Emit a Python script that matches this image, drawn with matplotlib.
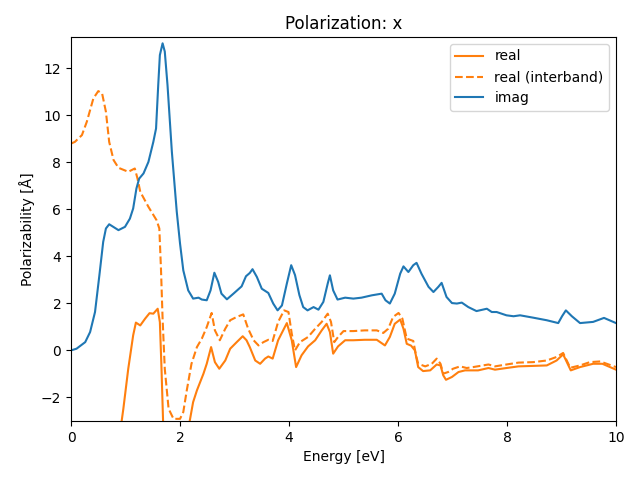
import matplotlib
matplotlib.use('Agg')
import matplotlib.pyplot as plt

# imaginary part
imag_x = [0.0, 0.10, 0.26, 0.35, 0.44, 0.52, 0.59, 0.64, 0.70, 0.87, 0.99, 1.08, 1.14,
          1.20, 1.25, 1.33, 1.42, 1.51, 1.56, 1.60, 1.63, 1.68, 1.72, 1.77, 1.85, 1.94,
          2.00, 2.06, 2.15, 2.24, 2.34, 2.40, 2.49, 2.56, 2.63, 2.70, 2.76, 2.86, 2.98,
          3.13, 3.21, 3.28, 3.33, 3.41, 3.50, 3.62, 3.71, 3.79, 3.87, 3.96, 4.04, 4.11,
          4.19, 4.26, 4.34, 4.45, 4.54, 4.63, 4.71, 4.75, 4.81, 4.89, 5.03, 5.18, 5.33,
          5.52, 5.70, 5.77, 5.85, 5.94, 6.04, 6.10, 6.19, 6.28, 6.34, 6.43, 6.56, 6.65,
          6.74, 6.80, 6.89, 6.99, 7.08, 7.17, 7.29, 7.44, 7.63, 7.72, 7.81, 7.99, 8.12,
          8.24, 8.48, 8.73, 8.94, 9.01, 9.08, 9.19, 9.34, 9.58, 9.78, 10.0]
imag_y = [0.0, 0.07, 0.35, 0.78, 1.63, 3.19, 4.61, 5.18, 5.36, 5.11, 5.25, 5.60, 6.03,
          6.88, 7.30, 7.52, 8.01, 8.86, 9.43, 11.28, 12.55, 13.05, 12.70, 11.28, 8.44, 5.89,
          4.54, 3.40, 2.55, 2.20, 2.24, 2.16, 2.13, 2.55, 3.30, 2.91, 2.41, 2.17, 2.41,
          2.72, 3.15, 3.29, 3.45, 3.12, 2.62, 2.44, 1.99, 1.70, 1.91, 2.84, 3.62, 3.20,
          2.35, 1.84, 1.70, 1.84, 1.73, 2.06, 2.84, 3.19, 2.55, 2.16, 2.24, 2.20, 2.24,
          2.34, 2.41, 2.13, 1.99, 2.41, 3.26, 3.57, 3.33, 3.62, 3.72, 3.26, 2.70, 2.48,
          2.70, 2.87, 2.27, 2.01, 1.99, 2.03, 1.84, 1.67, 1.77, 1.63, 1.63, 1.49, 1.45,
          1.49, 1.39, 1.28, 1.16, 1.45, 1.70, 1.45, 1.16, 1.21, 1.38, 1.16]

# real part (total)
real_x = [0.5, 0.75, 0.96, 1.05, 1.14, 1.19, 1.27, 1.36, 1.44, 1.51, 1.59, 1.63, 1.66,
          1.69, 1.75, 2.05, 2.17, 2.24, 2.31, 2.43, 2.49, 2.57, 2.64, 2.72, 2.83, 2.92,
          3.04, 3.15, 3.22, 3.28, 3.38, 3.47, 3.56, 3.62, 3.70, 3.80, 3.96, 4.05, 4.13,
          4.23, 4.35, 4.48, 4.60, 4.69, 4.75, 4.81, 4.90, 5.03, 5.18, 5.39, 5.61, 5.76,
          5.85, 5.94, 6.04, 6.10, 6.16, 6.24, 6.31, 6.37, 6.46, 6.59, 6.71, 6.78, 6.83,
          6.88, 6.99, 7.11, 7.23, 7.47, 7.66, 7.78, 7.99, 8.21, 8.48, 8.73, 8.91, 9.03,
          9.17, 9.34, 9.58, 9.75, 10.0]
real_y = [-15.0, -6.0, -2.48, -0.78, 0.64, 1.18, 1.06, 1.35, 1.58, 1.56, 1.77, 1.20, -0.77,
          -3.1, -8.0, -8.0, -3.1, -2.2, -1.70, -0.99, -0.57, 0.14, -0.50, -0.78, -0.43, 0.07,
          0.35, 0.60, 0.43, 0.14, -0.43, -0.57, -0.35, -0.26, -0.35, 0.43, 1.16, 0.43, -0.71,
          -0.21, 0.17, 0.43, 0.85, 1.13, 0.78, -0.14, 0.17, 0.43, 0.43, 0.45, 0.45, 0.21,
          0.57, 1.13, 1.31, 0.92, 0.28, 0.20, 0.0, -0.71, -0.88, -0.85, -0.60, -0.64, -1.06,
          -1.25, -1.13, -0.92, -0.85, -0.85, -0.75, -0.82, -0.75, -0.68, -0.66, -0.64, -0.43, -0.17,
          -0.85, -0.71, -0.57, -0.57, -0.82]

# real part (interband only)
inter_x = [0.0, 0.07, 0.20, 0.29, 0.41, 0.50, 0.57, 0.64, 0.70, 0.78, 0.87, 1.05, 1.17,
           1.22, 1.27, 1.42, 1.57, 1.62, 1.65, 1.68, 1.72, 1.79, 1.88, 2.00, 2.06, 2.12,
           2.21, 2.31, 2.40, 2.49, 2.58, 2.64, 2.73, 2.83, 2.92, 3.04, 3.16, 3.25, 3.35,
           3.44, 3.53, 3.62, 3.70, 3.80, 3.91, 3.99, 4.05, 4.11, 4.20, 4.35, 4.48, 4.60,
           4.71, 4.77, 4.83, 4.90, 5.00, 5.18, 5.39, 5.61, 5.73, 5.82, 5.91, 6.01, 6.08,
           6.16, 6.28, 6.33, 6.37, 6.50, 6.62, 6.71, 6.78, 6.83, 6.92, 7.01, 7.14, 7.26,
           7.38, 7.66, 7.78, 7.99, 8.21, 8.48, 8.73, 8.91, 9.03, 9.16, 9.34, 9.52, 9.71, 10.0]
inter_y = [8.79, 8.86, 9.15, 9.72, 10.71, 11.02, 10.92, 10.14, 8.86, 8.09, 7.76, 7.59, 7.73,
           7.30, 6.74, 6.10, 5.53, 5.18, 3.48, 1.35, -0.78, -2.48, -2.91, -2.91, -2.62, -1.75,
           -0.57, 0.14, 0.50, 0.99, 1.59, 0.85, 0.43, 0.92, 1.28, 1.42, 1.53, 0.92, 0.43,
           0.21, 0.35, 0.45, 0.40, 1.21, 1.70, 1.63, 0.71, 0.0, 0.35, 0.57, 0.92, 1.21,
           1.56, 1.21, 0.35, 0.57, 0.82, 0.82, 0.85, 0.85, 0.74, 0.92, 1.42, 1.59, 1.35,
           0.50, 0.40, -0.21, -0.57, -0.68, -0.57, -0.35, -0.57, -0.99, -0.92, -0.78, -0.68, -0.75,
           -0.71, -0.60, -0.68, -0.60, -0.52, -0.50, -0.43, -0.28, -0.11, -0.74, -0.64, -0.50, -0.47, -0.71]


def main() -> None:
    fig = plt.figure(figsize=(6.4, 4.8), dpi=100)
    plt.plot(real_x, real_y, color='C1', label='real')
    plt.plot(inter_x, inter_y, color='C1', linestyle='--', label='real (interband)')
    plt.plot(imag_x, imag_y, color='C0', label='imag')
    plt.xlim(0, 10)
    plt.ylim(-3, 13.32)
    plt.title('Polarization: x')
    plt.xlabel('Energy [eV]')
    plt.ylabel('Polarizability [Å]')
    plt.legend(loc='upper right')
    fig.subplots_adjust(left=0.111, right=0.9625, top=0.923, bottom=0.123)
    plt.savefig('out.png', dpi=100)


if __name__ == '__main__':
    main()
